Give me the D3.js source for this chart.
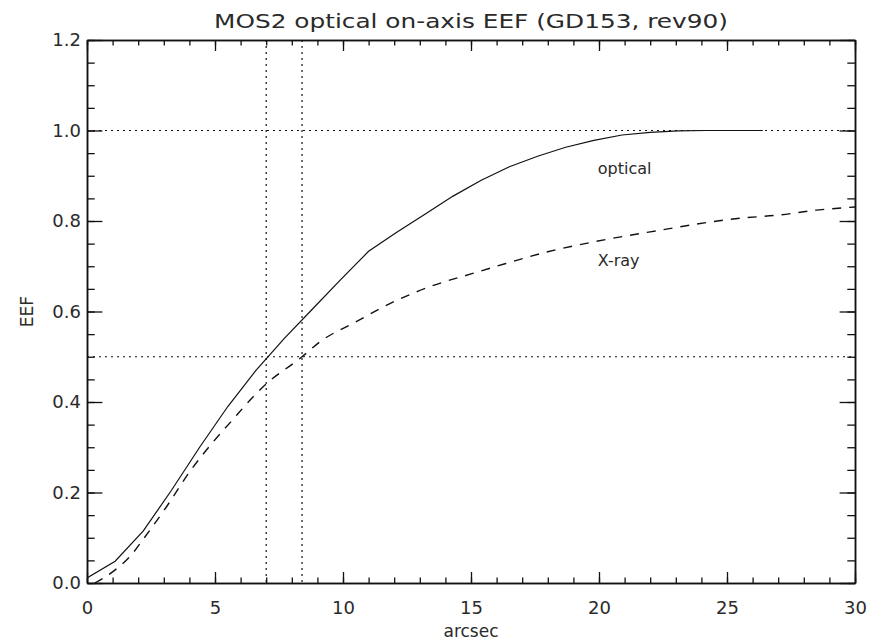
<!DOCTYPE html>
<html><head><meta charset="utf-8">
<script src="https://cdn.jsdelivr.net/npm/d3@7"></script>
<style>
body{margin:0;background:#fff;}
svg{display:block;}
text{font-family:"DejaVu Sans","Liberation Sans",sans-serif;fill:#2a2a2a;}
</style></head>
<body><svg id="c" width="873" height="642"></svg>
<script>
const title = "MOS2 optical on-axis EEF (GD153, rev90)";
const xLabel = "arcsec";
const yLabel = "EEF";
const xTicks = [0, 5, 10, 15, 20, 25, 30];
const yTicks = [0.0, 0.2, 0.4, 0.6, 0.8, 1.0, 1.2];
const xMinor = d3.range(0, 30.01, 1);
const yMinor = d3.range(0, 1.2001, 0.05);

const opticalX = [0, 1.1, 2.2, 3.3, 4.4, 5.5, 6.6, 7.7, 8.8, 9.9, 11.0, 12.1, 13.2, 14.3, 15.4, 16.5, 17.6, 18.7, 19.8, 20.9, 22.0, 23.1, 24.2, 25.3, 26.4];
const opticalY = [0.011, 0.048, 0.115, 0.205, 0.30, 0.39, 0.47, 0.54, 0.605, 0.67, 0.733, 0.775, 0.815, 0.855, 0.89, 0.92, 0.943, 0.963, 0.978, 0.99, 0.996, 0.999, 1.0, 1.0, 1.0];

const xrayX = [0.3, 1.1, 1.7, 2.2, 3.1, 4.0, 4.9, 5.6, 6.6, 7.1, 8.1, 8.4, 9.1, 10.5, 12.0, 13.5, 15.0, 16.0, 18.0, 19.8, 22.0, 25.5, 27.0, 28.5, 30.0];
const xrayY = [0.0, 0.029, 0.06, 0.097, 0.168, 0.245, 0.31, 0.355, 0.418, 0.445, 0.487, 0.5, 0.533, 0.577, 0.622, 0.657, 0.683, 0.70, 0.732, 0.754, 0.776, 0.806, 0.813, 0.824, 0.831];

const refX = [7.0, 8.4];
const refY = [0.5, 1.0];
const curveLabels = [{text: "optical", x: 19.95, y: 0.904}, {text: "X-ray", x: 19.95, y: 0.70}];

const L = 87, R = 855, T = 40, B = 583;
const svg = d3.select("#c");
const x = d3.scaleLinear().domain([0, 30]).range([L, R]);
const y = d3.scaleLinear().domain([0, 1.2]).range([B, T]);
const ink = "#111";

svg.append("clipPath").attr("id", "pc").append("rect")
  .attr("x", L).attr("y", T).attr("width", R - L).attr("height", B - T);
const plot = svg.append("g").attr("clip-path", "url(#pc)");

// reference dotted lines
refY.forEach(v => plot.append("line").attr("x1", L).attr("x2", R).attr("y1", y(v)).attr("y2", y(v))
  .attr("stroke", ink).attr("stroke-width", 1.2).attr("stroke-dasharray", "2,4"));
refX.forEach(v => plot.append("line").attr("y1", T).attr("y2", B).attr("x1", x(v)).attr("x2", x(v))
  .attr("stroke", ink).attr("stroke-width", 1.2).attr("stroke-dasharray", "2,4"));

const line = d3.line().x(d => x(d[0])).y(d => y(d[1]));
plot.append("path").datum(opticalX.map((v, i) => [v, opticalY[i]])).attr("d", line)
  .attr("fill", "none").attr("stroke", ink).attr("stroke-width", 1.2);
plot.append("path").datum(xrayX.map((v, i) => [v, xrayY[i]])).attr("d", line.curve(d3.curveMonotoneX))
  .attr("fill", "none").attr("stroke", ink).attr("stroke-width", 1.4).attr("stroke-dasharray", "9,8");

// axes
function styleAxis(g){ g.selectAll("path").attr("stroke", ink).attr("stroke-width", 1.5);
  g.selectAll("line").attr("stroke", ink).attr("stroke-width", 1.3);
  g.selectAll("text").attr("font-size", 18).attr("fill", "#2a2a2a"); }

svg.append("g").attr("transform", `translate(0,${B})`)
  .call(d3.axisBottom(x).tickValues(xMinor).tickSize(-5.5).tickFormat("").tickSizeOuter(0)).call(styleAxis);
svg.append("g").attr("transform", `translate(0,${B})`)
  .call(d3.axisBottom(x).tickValues(xTicks).tickSize(-11).tickPadding(18).tickFormat(d3.format("d")).tickSizeOuter(0)).call(styleAxis);
svg.append("g").attr("transform", `translate(0,${T})`)
  .call(d3.axisTop(x).tickValues(xMinor).tickSize(-5.5).tickFormat("").tickSizeOuter(0)).call(styleAxis);
svg.append("g").attr("transform", `translate(0,${T})`)
  .call(d3.axisTop(x).tickValues(xTicks).tickSize(-11).tickFormat("").tickSizeOuter(0)).call(styleAxis);

svg.append("g").attr("transform", `translate(${L},0)`)
  .call(d3.axisLeft(y).tickValues(yMinor).tickSize(-7.7).tickFormat("").tickSizeOuter(0)).call(styleAxis);
svg.append("g").attr("transform", `translate(${L},0)`)
  .call(d3.axisLeft(y).tickValues(yTicks).tickSize(-15.4).tickPadding(6).tickFormat(d3.format(".1f")).tickSizeOuter(0)).call(styleAxis);
svg.append("g").attr("transform", `translate(${R},0)`)
  .call(d3.axisRight(y).tickValues(yMinor).tickSize(-7.7).tickFormat("").tickSizeOuter(0)).call(styleAxis);
svg.append("g").attr("transform", `translate(${R},0)`)
  .call(d3.axisRight(y).tickValues(yTicks).tickSize(-15.4).tickFormat("").tickSizeOuter(0)).call(styleAxis);

// titles
svg.append("text").attr("x", (L + R) / 2).attr("y", 28).attr("text-anchor", "middle")
  .attr("font-size", 20).attr("textLength", 514).attr("lengthAdjust", "spacingAndGlyphs").text(title);
svg.append("text").attr("x", (L + R) / 2).attr("y", 637).attr("text-anchor", "middle")
  .attr("font-size", 17).text(xLabel);
svg.append("text").attr("transform", `translate(33,${(T + B) / 2}) rotate(-90)`).attr("text-anchor", "middle")
  .attr("font-size", 17).text(yLabel);

curveLabels.forEach(c => svg.append("text").attr("x", x(c.x)).attr("y", y(c.y)).attr("font-size", 16).text(c.text));
</script></body></html>
